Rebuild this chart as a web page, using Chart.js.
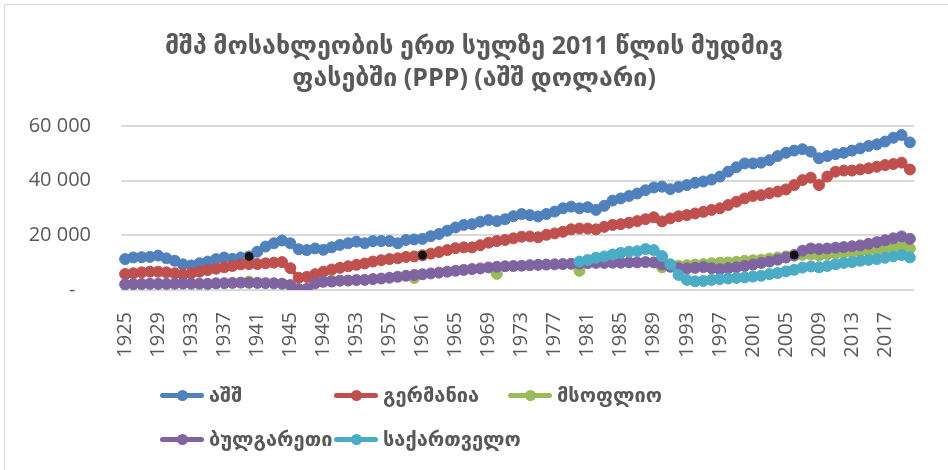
<!DOCTYPE html>
<html>
<head>
<meta charset="utf-8">
<script src="https://cdn.jsdelivr.net/npm/chart.js@4"></script>
<style>
  body { margin: 0; background: #fff; }
  #wrap { position: relative; width: 948px; height: 470px; }
  #frame { position: absolute; left: 4px; top: 4px; width: 960px; height: 480px;
           border-left: 1px solid #d9d9d9; border-top: 1px solid #d9d9d9; pointer-events: none; }
  .item { position: absolute; height: 24px; display: flex; align-items: center;
          font: bold 20px "DejaVu Sans", sans-serif; color: #595959; white-space: nowrap; }
  .item .mark { position: relative; width: 44px; height: 5px; border-radius: 3px; margin-right: 5px; }
  .item .mark::after { content: ""; position: absolute; left: 17px; top: -3px; width: 11px; height: 11px;
                       border-radius: 50%; background: inherit; }
</style>
</head>
<body>
<div id="wrap">
  <canvas id="gdpChart" width="948" height="470"></canvas>
  <div id="frame"></div>
  <div id="legend"></div>
</div>
<script>
// წლები (კატეგორიები)
const years = [
  "1925","1926","1927","1928","1929","1930","1931","1932","1933","1934","1935","1936",
  "1937","1938","1939","1940","1941","1942","1943","1944","1945","1946","1947","1948",
  "1949","1950","1951","1952","1953","1954","1955","1956","1957","1958","1959","1960",
  "1961","1962","1963","1964","1965","1966","1967","1968","1969","1970","1971","1972",
  "1973","1974","1975","1976","1977","1978","1979","1980","1981","1982","1983","1984",
  "1985","1986","1987","1988","1989","1990","1991","1992","1993","1994","1995","1996",
  "1997","1998","1999","2000","2001","2002","2003","2004","2005","2006","2007","2008",
  "2009","2010","2011","2012","2013","2014","2015","2016","2017","2018","2019","2020"
];

// აშშ
const usa = [
  11300, 11900, 12000, 12100, 12600, 11600, 10700, 9400, 9000, 9800, 10400, 11300,
  11900, 11400, 11900, 12300, 14000, 15900, 17100, 18100, 17100, 14900, 14600, 15200,
  14700, 15600, 16500, 17100, 17700, 17100, 17900, 17900, 17900, 17100, 18300, 18500,
  18700, 19700, 20500, 21700, 22900, 23800, 24100, 25000, 25600, 25200, 25900, 27000,
  27800, 27400, 26900, 27800, 28700, 29900, 30500, 29900, 30300, 29300, 30800, 32700,
  33500, 34400, 35300, 36500, 37500, 37800, 36900, 37700, 38400, 39200, 39700, 40400,
  41500, 43300, 44900, 46300, 46300, 46600, 47500, 49000, 50200, 51000, 51500, 50600,
  48200, 49000, 49700, 50200, 51000, 51800, 52700, 53300, 54300, 55700, 56700, 54000
];

// გერმანია
const germany = [
  5850, 6100, 6450, 6700, 6700, 6450, 6100, 5750, 6100, 6700, 7300, 7800,
  8300, 8800, 9400, 9500, 9500, 9750, 10000, 10200, 8000, 4500, 4800, 5800,
  6700, 7500, 8100, 8700, 9200, 9700, 10400, 10900, 11300, 11600, 12100, 12300,
  12700, 13300, 13900, 14600, 15300, 15600, 15600, 16400, 17300, 17900, 18300, 18900,
  19500, 19600, 19300, 20200, 20700, 21300, 22200, 22500, 22500, 22200, 23100, 23800,
  24100, 24600, 25200, 25900, 26600, 25100, 26200, 27000, 27400, 28000, 28600, 29300,
  29900, 31100, 32300, 33500, 34400, 34700, 35400, 36000, 36800, 38400, 40200, 41100,
  38400, 41500, 43300, 43700, 43700, 44100, 44500, 45100, 45700, 46100, 46600, 44100
];

// მსოფლიო (1990-მდე მხოლოდ ათწლეულები)
const world = [
  null, null, null, null, null, null, null, null, null, null, null, null,
  null, null, null, 3100, null, null, null, null, null, null, null, null,
  null, 3400, null, null, null, null, null, null, null, null, null, 4400,
  null, null, null, null, null, null, null, null, null, 5900, null, null,
  null, null, null, null, null, null, null, 7000, null, null, null, null,
  null, null, null, null, null, 8300, 8700, 8900, 9100, 9300, 9500, 9800,
  10000, 10100, 10300, 10700, 10900, 11100, 11500, 11900, 12300, 12500, 12900, 13000,
  12700, 13100, 13400, 13600, 13800, 14100, 14400, 14700, 15200, 15700, 16000, 15200
];

// ბულგარეთი
const bulgaria = [
  2100, 2150, 2200, 2250, 2250, 2250, 2300, 2350, 2300, 2300, 2250, 2450,
  2500, 2600, 2700, 2650, 2600, 2500, 2450, 2300, 1800, 300, 400, 2400,
  3000, 3100, 3400, 3450, 3650, 3700, 4000, 4200, 4500, 4850, 5200, 5500,
  5750, 6050, 6350, 6700, 7050, 7350, 7650, 7900, 8250, 8500, 8700, 8800,
  8900, 9100, 9200, 9300, 9400, 9500, 9600, 9700, 9800, 9900, 9900, 10000,
  10000, 10100, 10100, 10200, 10100, 9300, 8500, 8000, 7900, 8100, 8400, 8000,
  7600, 8000, 8300, 8800, 9300, 9900, 10400, 11100, 11900, 12800, 14400, 15200,
  15000, 15200, 15500, 15700, 16000, 16300, 16900, 17500, 18200, 18900, 19600, 18700
];

// საქართველო
const georgia = [
  null, null, null, null, null, null, null, null, null, null, null, null,
  null, null, null, null, null, null, null, null, null, null, null, null,
  null, null, null, null, null, null, null, null, null, null, null, null,
  null, null, null, null, null, null, null, null, null, null, null, null,
  null, null, null, null, null, null, null, 10400, 11000, 11800, 12300, 13000,
  13600, 14000, 14200, 15000, 14600, 12400, 9400, 5500, 3700, 3200, 3300, 3700,
  4000, 4200, 4400, 4600, 4900, 5200, 5800, 6200, 6800, 7400, 8200, 8600,
  8300, 8800, 9400, 9900, 10200, 10700, 11000, 11300, 11800, 12300, 12800, 11900
];

// შავი წერტილები: აშშ 1940, გერმანია 1961, ბულგარეთი 2006
const markers = years.map(() => null);
markers[years.indexOf("1940")] = 12300;
markers[years.indexOf("1961")] = 12700;
markers[years.indexOf("2006")] = 12800;

const GRAY = "#595959";

function series(label, data, color, order) {
  return {
    label: label,
    data: data,
    borderColor: color,
    backgroundColor: color,
    borderWidth: 4.5,
    pointRadius: 5.5,
    pointBorderWidth: 1,
    pointBorderColor: color,
    pointBackgroundColor: color,
    spanGaps: false,
    tension: 0,
    order: order,
  };
}

// სივრცეების გამყოფი ათასებისთვის
function formatThousands(v) {
  if (v === 0) return "-   ";
  return String(v).replace(/\B(?=(\d{3})+(?!\d))/g, " ");
}

const ctx = document.getElementById("gdpChart").getContext("2d");

const chart = new Chart(ctx, {
  type: "line",
  data: {
    labels: years,
    datasets: [
      series("აშშ", usa, "#4F81BD", 6),
      series("გერმანია", germany, "#C0504D", 5),
      series("მსოფლიო", world, "#9BBB59", 4),
      series("ბულგარეთი", bulgaria, "#8064A2", 3),
      series("საქართველო", georgia, "#4BACC6", 2),
      {
        label: "",
        data: markers,
        showLine: false,
        pointRadius: 4,
        pointBackgroundColor: "#111",
        pointBorderColor: "#111",
        borderColor: "#111",
        order: 1,
      },
    ],
  },
  options: {
    responsive: false,
    animation: false,
    events: [],
    layout: { padding: { left: 27, right: 27, top: 0, bottom: 0 } },
    plugins: {
      legend: { display: false },
      tooltip: { enabled: false },
      title: {
        display: true,
        text: ["მშპ მოსახლეობის ერთ სულზე 2011 წლის მუდმივ", "ფასებში (PPP) (აშშ დოლარი)"],
        color: GRAY,
        font: { family: '"Open Sans", "DejaVu Sans", sans-serif', size: 25, weight: "bold", lineHeight: 1.28 },
        padding: { top: 31, bottom: 31 },
      },
    },
    scales: {
      x: {
        offset: true,
        grid: { display: false },
        border: { display: false },
        ticks: {
          autoSkip: false,
          maxRotation: 90,
          minRotation: 90,
          padding: 14,
          color: GRAY,
          font: { family: '"Open Sans", sans-serif', size: 20 },
          callback: function (val, i) {
            return i % 4 === 0 ? this.getLabelForValue(val) : "";
          },
        },
        afterFit: (s) => { s.height = 180; },
      },
      y: {
        min: 0,
        max: 60000,
        grid: { color: "#d9d9d9", lineWidth: 2, drawTicks: false },
        border: { display: false },
        ticks: {
          stepSize: 20000,
          padding: 30,
          color: GRAY,
          font: { family: '"Open Sans", sans-serif', size: 20 },
          callback: (v) => formatThousands(v),
        },
        afterFit: (s) => { s.width = 94; },
      },
    },
  },
});

// HTML ლეგენდა, სამ სვეტად
const legendBox = document.getElementById("legend");
chart.data.datasets
  .filter((ds) => ds.label)
  .forEach((ds, i) => {
    const item = document.createElement("div");
    item.className = "item";
    item.style.left = 160 + (i % 3) * 174 + "px";
    item.style.top = 383 + Math.floor(i / 3) * 44 + "px";
    const mark = document.createElement("span");
    mark.className = "mark";
    mark.style.background = ds.borderColor;
    item.appendChild(mark);
    item.appendChild(document.createTextNode(ds.label));
    legendBox.appendChild(item);
  });
</script>
</body>
</html>
